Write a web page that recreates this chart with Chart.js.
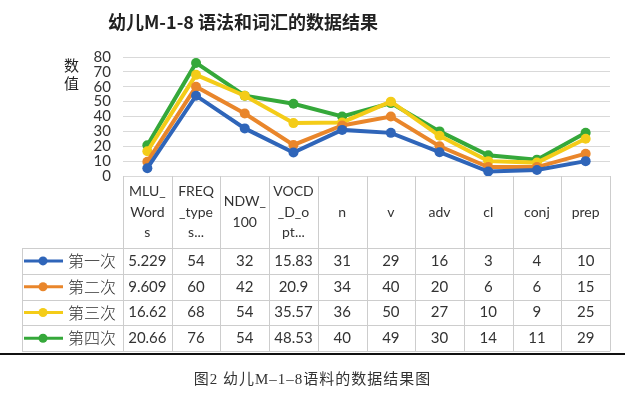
<!DOCTYPE html>
<html>
<head>
    <meta charset="utf-8"/>
    <title>幼儿M-1-8语法和词汇的数据结果</title>
    <script src="https://cdn.jsdelivr.net/npm/chart.js"></script>
    <style>
        body { margin: 0; background: #fff; }
        #wrap { position: relative; width: 625px; height: 396px; overflow: hidden; }
        #titulo {
            position: absolute; left: 108px; top: 8px;
            font: bold 18px "Noto Sans CJK SC", "Liberation Sans", sans-serif;
            color: #222; white-space: nowrap;
        }
        #ylabel {
            position: absolute; left: 64px; top: 56px; width: 18px;
            font: 15px/18px "Noto Sans CJK SC", sans-serif; color: #222;
        }
        #linea { position: absolute; left: 0; top: 353px; width: 625px; height: 2px; background: #111; }
        #pie {
            position: absolute; left: 0; top: 367px; width: 625px; text-align: center;
            font: 15px "Liberation Serif", "Noto Sans CJK SC", serif; color: #333;
            letter-spacing: 1px;
        }
        canvas { position: absolute; left: 0; top: 0; }
    </style>
</head>
<body>
<div id="wrap">
    <canvas id="grafica" width="625" height="396"></canvas>
    <div id="titulo">幼儿M-1-8 语法和词汇的数据结果</div>
    <div id="ylabel">数<br>值</div>
    <div id="linea"></div>
    <div id="pie">图2 幼儿M–1–8语料的数据结果图</div>
</div>

<script>
    // Datos
    const categorias = ['MLU_Words', 'FREQ_types', 'NDW_100', 'VOCD_D_optimum', 'n', 'v', 'adv', 'cl', 'conj', 'prep'];
    const encabezados = [['MLU_', 'Word', 's'], ['FREQ', '_type', 's...'], ['NDW_', '100'], ['VOCD', '_D_o', 'pt...'],
                         ['n'], ['v'], ['adv'], ['cl'], ['conj'], ['prep']];
    const series = ['第一次', '第二次', '第三次', '第四次'];
    const primera = [5.229, 54, 32, 15.83, 31, 29, 16, 3, 4, 10];
    const segunda = [9.609, 60, 42, 20.9, 34, 40, 20, 6, 6, 15];
    const tercera = [16.62, 68, 54, 35.57, 36, 50, 27, 10, 9, 25];
    const cuarta = [20.66, 76, 54, 48.53, 40, 49, 30, 14, 11, 29];
    const yTicks = [0, 10, 20, 30, 40, 50, 60, 70, 80];

    const colores = ['#2f65b9', '#e9862b', '#f4cc18', '#35a83a'];
    const valores = [primera, segunda, tercera, cuarta];

    // Tabla de datos debajo del eje x
    const tablaPlugin = {
        id: 'tabla',
        afterDraw(chart) {
            const ctx = chart.ctx;
            const x = chart.scales.x;
            const area = chart.chartArea;
            const anchoCol = x.getPixelForValue(1) - x.getPixelForValue(0);
            const izq = x.getPixelForValue(0) - anchoCol / 2;
            const der = x.getPixelForValue(categorias.length - 1) + anchoCol / 2;
            const arriba = area.bottom;
            const altoCab = 72;
            const altoFila = 25.8;
            const leyendaIzq = 22;
            const abajo = arriba + altoCab + altoFila * series.length;

            ctx.save();
            ctx.strokeStyle = '#cdcdcd';
            ctx.lineWidth = 1;
            ctx.beginPath();
            for (let i = 0; i <= categorias.length; i++) {
                const px = Math.round(izq + anchoCol * i) + 0.5;
                ctx.moveTo(px, arriba);
                ctx.lineTo(px, abajo);
            }
            ctx.moveTo(leyendaIzq + 0.5, arriba + altoCab);
            ctx.lineTo(leyendaIzq + 0.5, abajo);
            for (let r = 0; r <= series.length; r++) {
                const py = Math.round(arriba + altoCab + altoFila * r) + 0.5;
                ctx.moveTo(leyendaIzq, py);
                ctx.lineTo(der, py);
            }
            ctx.stroke();

            // encabezados
            ctx.fillStyle = '#333';
            ctx.textAlign = 'center';
            ctx.textBaseline = 'middle';
            ctx.font = '14px Lato, "Open Sans", sans-serif';
            encabezados.forEach((lineas, i) => {
                const cx = x.getPixelForValue(i);
                const cy = arriba + altoCab / 2;
                lineas.forEach((t, j) => {
                    ctx.fillText(t, cx, cy + (j - (lineas.length - 1) / 2) * 20.5);
                });
            });

            // filas
            series.forEach((nombre, r) => {
                const cy = arriba + altoCab + altoFila * r + altoFila / 2;
                ctx.strokeStyle = colores[r];
                ctx.lineWidth = 3;
                ctx.beginPath();
                ctx.moveTo(leyendaIzq + 2, cy);
                ctx.lineTo(leyendaIzq + 41, cy);
                ctx.stroke();
                ctx.fillStyle = colores[r];
                ctx.beginPath();
                ctx.arc(leyendaIzq + 21, cy, 4.5, 0, Math.PI * 2);
                ctx.fill();

                ctx.fillStyle = '#333';
                ctx.textAlign = 'left';
                ctx.font = '300 16px "Noto Sans CJK SC", sans-serif';
                ctx.fillText(nombre, leyendaIzq + 46, cy);

                ctx.textAlign = 'center';
                ctx.font = '15px Lato, "Open Sans", sans-serif';
                valores[r].forEach((v, i) => {
                    ctx.fillText(String(v), x.getPixelForValue(i), cy);
                });
            });
            ctx.restore();
        }
    };

    const ctx = document.getElementById('grafica').getContext('2d');
    new Chart(ctx, {
        type: 'line',
        data: {
            labels: categorias,
            datasets: series.map((nombre, i) => ({
                label: nombre,
                data: valores[i],
                borderColor: colores[i],
                backgroundColor: colores[i],
                borderWidth: 4,
                pointRadius: 5,
                pointBorderWidth: 0,
                pointHoverRadius: 5,
                tension: 0,
                fill: false
            }))
        },
        options: {
            responsive: false,
            animation: false,
            devicePixelRatio: 1,
            layout: { padding: { left: 0, right: 15, top: 57, bottom: 220 } },
            plugins: {
                legend: { display: false },
                tooltip: { enabled: false },
                title: { display: false }
            },
            scales: {
                x: { display: false, offset: true },
                y: {
                    min: 0,
                    max: 80,
                    afterFit: s => { s.width = 123; },
                    afterBuildTicks: s => { s.ticks = yTicks.map(v => ({ value: v })); },
                    border: { display: false },
                    grid: { color: '#d9d9d9', drawTicks: false },
                    ticks: {
                        autoSkip: false,
                        padding: 12,
                        color: '#333',
                        font: { family: 'Lato, "Open Sans", sans-serif', size: 15 }
                    }
                }
            }
        },
        plugins: [tablaPlugin]
    });
</script>
</body>
</html>
